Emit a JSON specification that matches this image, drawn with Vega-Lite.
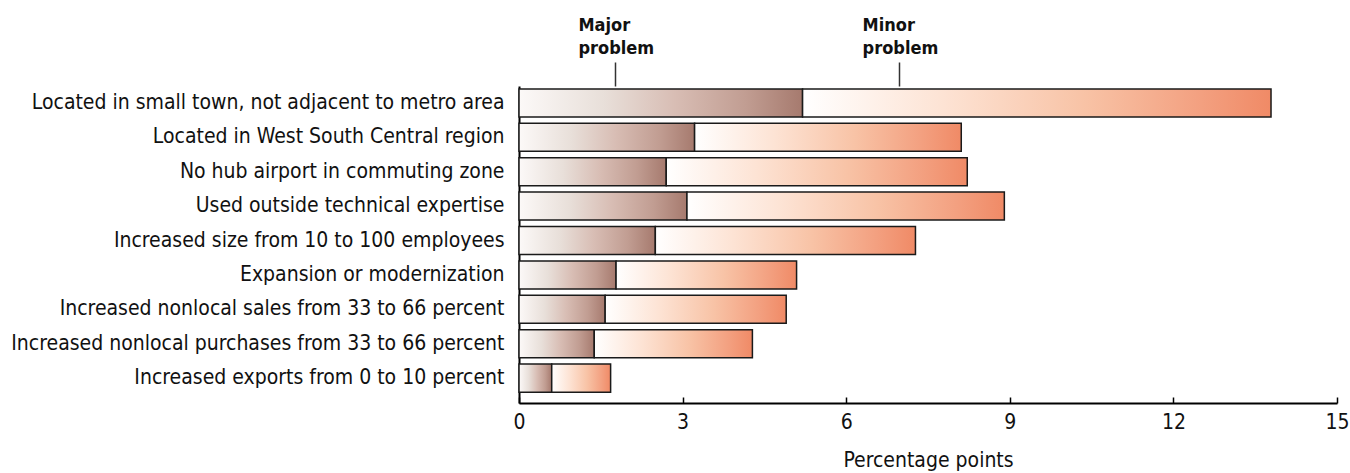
{
  "$schema": "https://vega.github.io/schema/vega-lite/v6.json",
  "width": 818,
  "height": 317,
  "autosize": {"type": "none"},
  "padding": {"left": 519, "top": 86, "right": 13, "bottom": 70},
  "background": "white",
  "config": {"view": {"stroke": null}, "font": "DejaVu Sans Condensed, Roboto, sans-serif"},
  "data": {
    "values": [
      {"factor": "Located in small town, not adjacent to metro area", "major": 5.2, "total": 13.79},
      {"factor": "Located in West South Central region", "major": 3.22, "total": 8.11},
      {"factor": "No hub airport in commuting zone", "major": 2.7, "total": 8.22},
      {"factor": "Used outside technical expertise", "major": 3.08, "total": 8.9},
      {"factor": "Increased size from 10 to 100 employees", "major": 2.5, "total": 7.27},
      {"factor": "Expansion or modernization", "major": 1.78, "total": 5.09},
      {"factor": "Increased nonlocal sales from 33 to 66 percent", "major": 1.58, "total": 4.9},
      {"factor": "Increased nonlocal purchases from 33 to 66 percent", "major": 1.38, "total": 4.28},
      {"factor": "Increased exports from 0 to 10 percent", "major": 0.6, "total": 1.68}
    ]
  },
  "layer": [
    {
      "mark": {
        "type": "bar",
        "stroke": "#1a1a1a",
        "strokeWidth": 1.5,
        "fill": {
          "gradient": "linear", "x1": 0, "y1": 0, "x2": 1, "y2": 0,
          "stops": [
            {"offset": 0, "color": "#fcf9f8"},
            {"offset": 0.3, "color": "#e8dfd9"},
            {"offset": 0.55, "color": "#d8bdb4"},
            {"offset": 0.8, "color": "#c19d92"},
            {"offset": 1, "color": "#a67a6e"}
          ]
        }
      },
      "encoding": {
        "y": {
          "field": "factor", "type": "nominal", "sort": null,
          "scale": {"paddingInner": 0.186, "paddingOuter": 0.2, "align": 0.21},
          "axis": {
            "title": null, "ticks": false, "domainColor": "#000000", "domainWidth": 2,
            "labelFontSize": 21, "labelColor": "#111111", "labelPadding": 15, "labelLimit": 600
          }
        },
        "x": {
          "field": "major", "type": "quantitative",
          "scale": {"domain": [0, 15], "nice": false},
          "axis": {
            "orient": "bottom", "values": [0, 3, 6, 9, 12, 15], "grid": false,
            "domainColor": "#000000", "domainWidth": 2,
            "tickColor": "#000000", "tickWidth": 1.5, "tickSize": -6,
            "labelFontSize": 21, "labelColor": "#111111", "labelPadding": 14, "labelFlush": false,
            "title": "Percentage points", "titleFontSize": 21, "titleFontWeight": "normal",
            "titleColor": "#111111", "titlePadding": 17
          }
        }
      }
    },
    {
      "mark": {
        "type": "bar",
        "stroke": "#1a1a1a",
        "strokeWidth": 1.5,
        "fill": {
          "gradient": "linear", "x1": 0, "y1": 0, "x2": 1, "y2": 0,
          "stops": [
            {"offset": 0, "color": "#ffffff"},
            {"offset": 0.3, "color": "#fde3d4"},
            {"offset": 0.6, "color": "#f8c3a6"},
            {"offset": 0.85, "color": "#f3a080"},
            {"offset": 1, "color": "#f08a66"}
          ]
        }
      },
      "encoding": {
        "y": {"field": "factor", "type": "nominal", "sort": null},
        "x": {
          "field": "major", "type": "quantitative",
          "scale": {"domain": [0, 15], "nice": false},
          "axis": {
            "orient": "top", "values": [1.76, 6.97], "grid": false, "domain": false,
            "tickColor": "#333333", "tickWidth": 1.5, "tickSize": 24,
            "labelExpr": "datum.value < 4 ? ['Major', 'problem'] : ['Minor', 'problem']",
            "labelAlign": "left", "labelOffset": -37, "labelPadding": 28,
            "labelFontSize": 18, "labelFontWeight": "bold", "labelColor": "#111111",
            "labelLineHeight": 23, "title": null
          }
        },
        "x2": {"field": "total"}
      }
    }
  ],
  "resolve": {"scale": {"x": "independent"}, "axis": {"x": "independent"}}
}
